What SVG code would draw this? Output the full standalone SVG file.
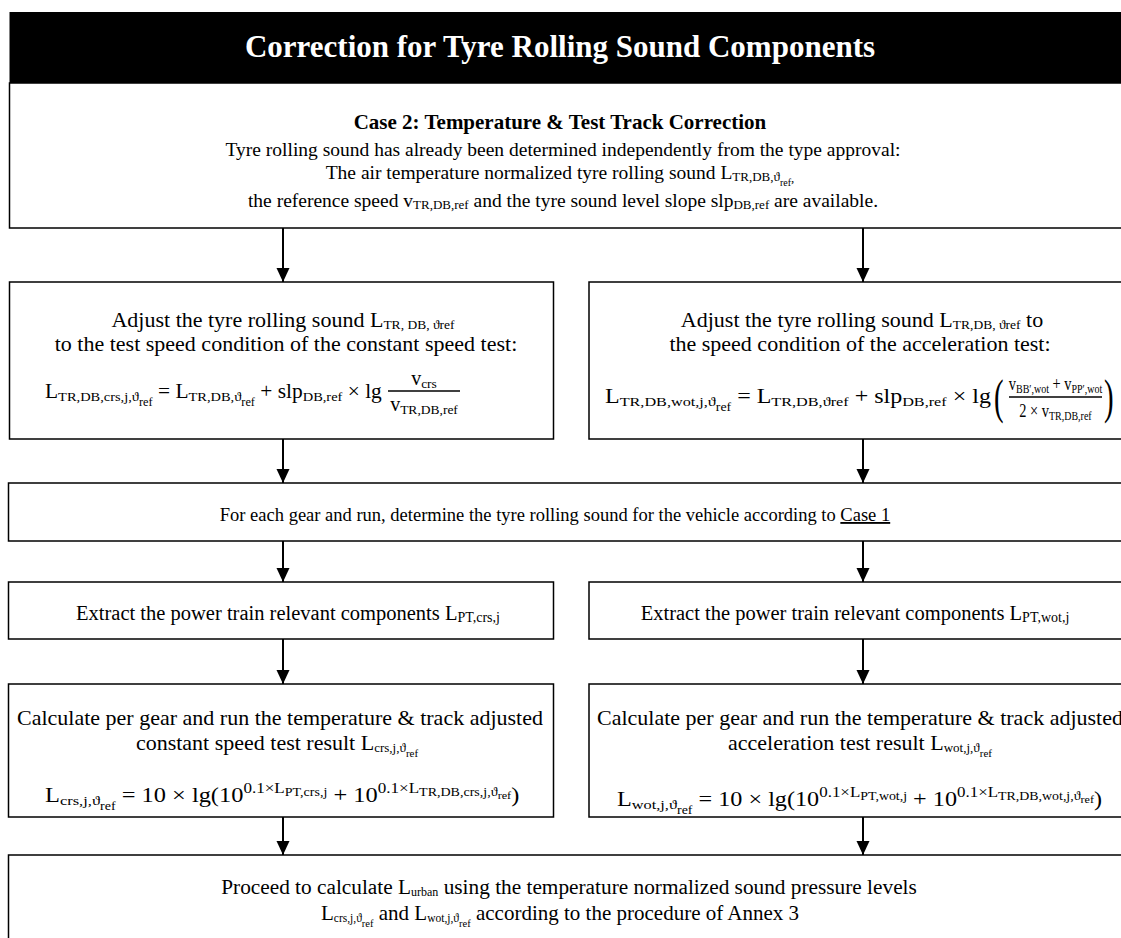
<svg xmlns="http://www.w3.org/2000/svg" width="1121" height="938" viewBox="0 0 1121 938">
<style>
text{font-family:"Liberation Serif","Times New Roman",serif;fill:#000}
.box{fill:#fff;stroke:#000;stroke-width:1.5}
.m{font-size:20px}
.s{font-size:13.5px}
.ss{font-size:11.5px}
.b{font-size:13px}
.sp{font-size:14px}
.spp{font-size:11.5px}
.conn line{stroke:#000;stroke-width:2;marker-end:url(#ah)}
.fl{stroke:#000;stroke-width:1.3}
</style>
<defs>
<marker id="ah" markerUnits="userSpaceOnUse" markerWidth="14" markerHeight="14" refX="14" refY="6.5" orient="auto">
<path d="M0,0 L14,6.5 L0,13 z" fill="#000"/>
</marker>
</defs>

<g id="title">
<rect x="9.5" y="12" width="1120" height="71" fill="#000"/>
<text x="560" y="57" text-anchor="middle" font-size="31" font-weight="bold" style="fill:#fff">Correction for Tyre Rolling Sound Components</text>
</g>

<g id="case2">
<rect class="box" x="9.5" y="83" width="1120" height="145"/>
<text x="560" y="129" text-anchor="middle" font-size="21" font-weight="bold">Case 2: Temperature &amp; Test Track Correction</text>
<text x="563" y="156" text-anchor="middle" font-size="19.5">Tyre rolling sound has already been determined independently from the type approval:</text>
<text x="560" y="179" text-anchor="middle" font-size="19.5">The air temperature normalized tyre rolling sound L<tspan class="b" dy="2">TR,DB,ϑ</tspan><tspan font-size="10" dy="5">ref</tspan><tspan class="b" dy="-4">,</tspan></text>
<text x="563" y="207" text-anchor="middle" font-size="19.5">the reference speed v<tspan class="b" dy="2">TR,DB,ref</tspan><tspan dy="-2"> and the tyre sound level slope slp</tspan><tspan class="b" dy="2">DB,ref</tspan><tspan dy="-2"> are available.</tspan></text>
</g>

<g id="adjust-crs">
<rect class="box" x="9.5" y="282" width="544" height="157"/>
<text x="283" y="327" text-anchor="middle" font-size="22">Adjust the tyre rolling sound L<tspan class="s" dy="2">TR, DB, ϑref</tspan></text>
<text x="286" y="351" text-anchor="middle" font-size="22">to the test speed condition of the constant speed test:</text>
<g transform="translate(45 398) scale(1.07 1)">
<text x="0" y="0" class="m">L<tspan class="s" dy="3">TR,DB,crs,j,ϑ</tspan><tspan class="ss" dy="5">ref</tspan><tspan dy="-8"> = L</tspan><tspan class="s" dy="3">TR,DB,ϑ</tspan><tspan class="ss" dy="5">ref</tspan><tspan dy="-8"> + slp</tspan><tspan class="s" dy="3">DB,ref</tspan><tspan dy="-3"> × lg</tspan></text>
</g>
<line class="fl" x1="388" y1="391" x2="460" y2="391"/>
<text x="424" y="385" text-anchor="middle" class="m">v<tspan class="s" dy="3">crs</tspan></text>
<text x="424" y="411" text-anchor="middle" class="m">v<tspan class="s" dy="3">TR,DB,ref</tspan></text>
</g>

<g id="adjust-wot">
<rect class="box" x="589" y="282" width="540" height="157"/>
<text x="862" y="327" text-anchor="middle" font-size="22">Adjust the tyre rolling sound L<tspan class="s" dy="2">TR,DB, ϑref</tspan><tspan dy="-2"> to</tspan></text>
<text x="860" y="351" text-anchor="middle" font-size="22">the speed condition of the acceleration test:</text>
<g transform="translate(605 403) scale(1.2 1)">
<text x="0" y="0" class="m">L<tspan class="s" dy="3">TR,DB,wot,j,ϑ</tspan><tspan class="ss" dy="5">ref</tspan><tspan dy="-8"> = L</tspan><tspan class="s" dy="3">TR,DB,ϑref</tspan><tspan dy="-3"> + slp</tspan><tspan class="s" dy="3">DB,ref</tspan><tspan dy="-3"> × lg</tspan></text>
</g>
<g transform="translate(994 413) scale(0.6 1)"><text x="0" y="0" font-size="48">(</text></g>
<line class="fl" x1="1009" y1="397" x2="1102" y2="397"/>
<g transform="translate(1055.5 390) scale(0.8 1)">
<text x="0" y="0" text-anchor="middle" font-size="18">v<tspan font-size="12.5" dy="3">BB′,wot</tspan><tspan dy="-3"> + v</tspan><tspan font-size="12.5" dy="3">PP′,wot</tspan></text>
</g>
<g transform="translate(1055.5 417) scale(0.8 1)">
<text x="0" y="0" text-anchor="middle" font-size="18">2 × v<tspan font-size="12.5" dy="3">TR,DB,ref</tspan></text>
</g>
<g transform="translate(1104 413) scale(0.6 1)"><text x="0" y="0" font-size="48">)</text></g>
</g>

<g id="case1">
<rect class="box" x="8.5" y="483" width="1121" height="58"/>
<text x="555" y="521" text-anchor="middle" font-size="18.5">For each gear and run, determine the tyre rolling sound for the vehicle according to <tspan text-decoration="underline">Case 1</tspan></text>
</g>

<g id="extract-crs">
<rect class="box" x="8.5" y="582" width="545" height="57"/>
<text x="288" y="620" text-anchor="middle" font-size="20.5">Extract the power train relevant components L<tspan font-size="14" dy="2">PT,crs,j</tspan></text>
</g>

<g id="extract-wot">
<rect class="box" x="589" y="582" width="540" height="57"/>
<text x="855" y="620" text-anchor="middle" font-size="20.5">Extract the power train relevant components L<tspan font-size="14" dy="2">PT,wot,j</tspan></text>
</g>

<g id="calc-crs">
<rect class="box" x="8.5" y="684" width="545" height="133"/>
<text x="280" y="725" text-anchor="middle" font-size="22">Calculate per gear and run the temperature &amp; track adjusted</text>
<text x="277" y="750" text-anchor="middle" font-size="22">constant speed test result L<tspan class="b" dy="2">crs,j,ϑ</tspan><tspan font-size="11" dy="5">ref</tspan></text>
<g transform="translate(45 802) scale(1.22 1)">
<text x="0" y="0" class="m">L<tspan class="s" dy="3">crs,j,ϑ</tspan><tspan class="ss" dy="5">ref</tspan><tspan dy="-8"> = 10 × lg(10</tspan><tspan class="sp" dy="-9">0.1×L</tspan><tspan class="spp" dy="3">PT,crs,j</tspan><tspan dy="6"> + 10</tspan><tspan class="sp" dy="-9">0.1×L</tspan><tspan class="spp" dy="3">TR,DB,crs,j,ϑ</tspan><tspan font-size="10" dy="3">ref</tspan><tspan dy="3">)</tspan></text>
</g>
</g>

<g id="calc-wot">
<rect class="box" x="589" y="684" width="540" height="133"/>
<text x="860" y="725" text-anchor="middle" font-size="22">Calculate per gear and run  the temperature &amp; track adjusted</text>
<text x="860" y="750" text-anchor="middle" font-size="22">acceleration test result L<tspan class="b" dy="2">wot,j,ϑ</tspan><tspan font-size="11" dy="5">ref</tspan></text>
<g transform="translate(617 806) scale(1.21 1)">
<text x="0" y="0" class="m">L<tspan class="s" dy="3">wot,j,ϑ</tspan><tspan class="ss" dy="5">ref</tspan><tspan dy="-8"> = 10 × lg(10</tspan><tspan class="sp" dy="-9">0.1×L</tspan><tspan class="spp" dy="3">PT,wot,j</tspan><tspan dy="6"> + 10</tspan><tspan class="sp" dy="-9">0.1×L</tspan><tspan class="spp" dy="3">TR,DB,wot,j,ϑ</tspan><tspan font-size="10" dy="3">ref</tspan><tspan dy="3">)</tspan></text>
</g>
</g>

<g id="proceed">
<rect class="box" x="8.5" y="855" width="1121" height="95"/>
<text x="569" y="894" text-anchor="middle" font-size="21.3">Proceed to calculate L<tspan font-size="12" dy="2">urban</tspan><tspan dy="-2"> using the temperature normalized sound pressure levels</tspan></text>
<text x="560" y="920" text-anchor="middle" font-size="21">L<tspan class="ss" dy="2">crs,j,ϑ</tspan><tspan font-size="10.5" dy="5">ref</tspan><tspan dy="-7"> and L</tspan><tspan class="ss" dy="2">wot,j,ϑ</tspan><tspan font-size="10.5" dy="5">ref</tspan><tspan dy="-7"> according to the procedure of Annex 3</tspan></text>
</g>

<g class="conn" id="connectors">
<line x1="283" y1="228" x2="283" y2="282"/>
<line x1="863" y1="228" x2="863" y2="282"/>
<line x1="283" y1="439" x2="283" y2="483"/>
<line x1="863" y1="439" x2="863" y2="483"/>
<line x1="283" y1="541" x2="283" y2="582"/>
<line x1="863" y1="541" x2="863" y2="582"/>
<line x1="283" y1="639" x2="283" y2="684"/>
<line x1="863" y1="639" x2="863" y2="684"/>
<line x1="283" y1="817" x2="283" y2="855"/>
<line x1="863" y1="817" x2="863" y2="855"/>
</g>
</svg>
